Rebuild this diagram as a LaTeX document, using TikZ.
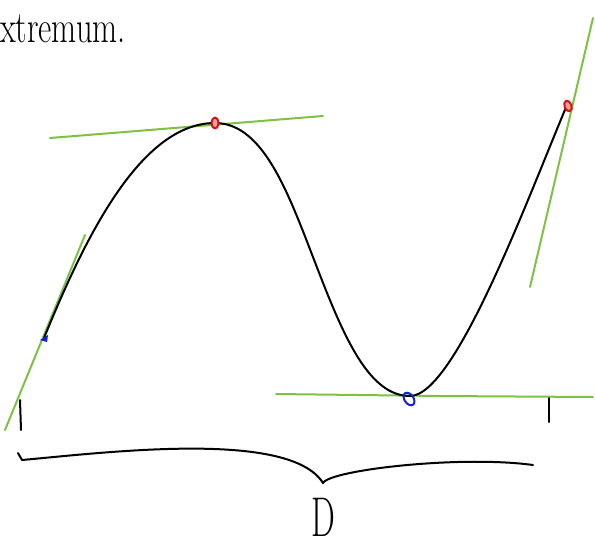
\documentclass[tikz,border=0pt]{standalone}
\usetikzlibrary{positioning}
\definecolor{cgreen}{HTML}{7DC242}
\definecolor{cred}{HTML}{DD1010}
\definecolor{cblue}{HTML}{1020E0}
\tikzset{
  every picture/.style={line cap=round, line join=round},
  curve/.style={draw=black, line width=2pt},
  tangent/.style={draw=cgreen, line width=2pt},
  tick/.style={draw=black, line width=2pt},
  mark max/.style={draw=cred, fill=cred!40, line width=2pt},
  mark min/.style={draw=cblue, line width=2pt},
  scribble/.style={inner sep=0pt, anchor=base west},
}

\begin{document}
\begin{tikzpicture}[x=1pt, y=-1pt]
  \useasboundingbox (0,0) rectangle (595,550);
  \node[scribble, xscale=0.72, font=\fontsize{45}{45}\selectfont] (title) at (0,42) {xtremum.};

  % points on the curve
  \coordinate (start) at (44,338);
  \coordinate (peak) at (215,123);
  \coordinate (bend) at (318,270);
  \coordinate (trough) at (410,396);
  \coordinate (stop) at (567,105);

  % tangents
  \draw[tangent] (5,430) -- (85,235);
  \draw[tangent] (50,138) -- (323,116);
  \draw[tangent] (276,394) -- (440,396) -- (593,397);
  \draw[tangent] (530,287) -- (593,18);

  \draw[curve] (start) .. controls (84,240) and (140,123) .. (peak)
    .. controls (265,123) and (290,198) .. (bend)
    .. controls (345,340) and (370,396) .. (trough)
    .. controls (455,396) and (527,200) .. (stop);

  \fill[cblue] (start) ++(-4,2) -- ++(8,-5) -- ++(-1,7) -- cycle;
  \draw[mark min, rotate around={35:(409,399)}] (409,399) ellipse (4.5pt and 7pt);
  \draw[mark max] (peak) ellipse (3.5pt and 5.5pt);
  \draw[mark max, rotate around={20:(568,106)}] (568,106) ellipse (3.5pt and 5.5pt);

  % interval ends and brace
  \draw[tick] (20,400) -- (21,430);
  \draw[tick] (549,398) -- (549,422);
  \coordinate (bl) at (18,453);
  \coordinate (tip) at (323,483);
  \coordinate (br) at (533,465);
  \draw[curve] (bl) -- (22,460) .. controls (110,452) and (290,430) .. (tip)
    .. controls (330,470) and (460,455) .. (br);
  \node[xscale=0.6, font=\fontsize{56}{56}\selectfont, below=12pt of tip] (dom) {D};
\end{tikzpicture}
\end{document}
